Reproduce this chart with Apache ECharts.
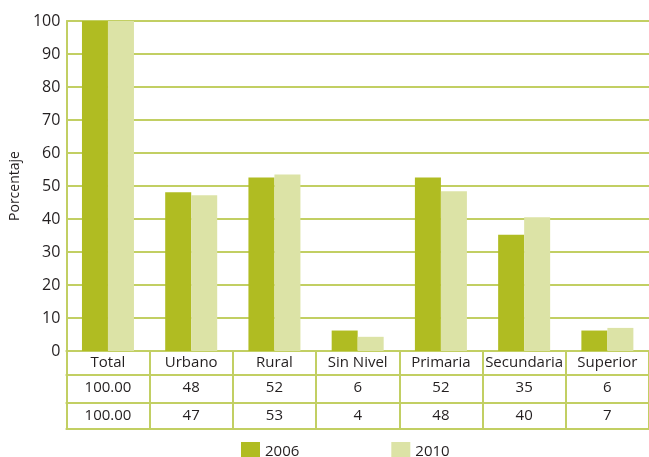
<!DOCTYPE html>
<html>
<head>
<meta charset="utf-8">
<script src="https://cdn.jsdelivr.net/npm/echarts@6/dist/echarts.min.js"></script>
<style>
  html, body { margin: 0; padding: 0; background: #fff; }
  #chart { width: 649px; height: 457px; }
</style>
</head>
<body>
<div id="chart"></div>
<script>
// Data
const categories = ['Total', 'Urbano', 'Rural', 'Sin Nivel', 'Primaria', 'Secundaria', 'Superior'];
const values2006 = [100, 48.1, 52.6, 6.2, 52.6, 35.2, 6.2];
const values2010 = [100, 47.2, 53.5, 4.3, 48.4, 40.5, 7.0];
// Numbers printed in the data table under the axis
const table2006 = ['100.00', '48', '52', '6', '52', '35', '6'];
const table2010 = ['100.00', '47', '53', '4', '48', '40', '7'];
const yTicks = [0, 10, 20, 30, 40, 50, 60, 70, 80, 90, 100];

const olive = '#c2cf63';
const dark = '#b0bc22';
const light = '#dce3a6';
const textColor = '#231f20';
const font = '"Open Sans", "Noto Sans", sans-serif';

const chart = echarts.init(document.getElementById('chart'), null, { renderer: 'canvas' });

// one x axis per table row; all share the grid, stacked with offset
const tableAxis = (offset, labels, extra) => Object.assign({
  type: 'category',
  data: categories,
  position: 'bottom',
  offset: offset,
  axisLine: { show: true, lineStyle: { color: olive, width: 2 } },
  axisTick: { show: false },
  axisLabel: {
    show: !!labels,
    margin: 5,
    color: textColor,
    fontFamily: font,
    fontSize: 15,
    formatter: (v, i) => labels ? labels[i] : ''
  }
}, extra || {});

const option = {
  animation: false,
  textStyle: { fontFamily: font },
  grid: { left: 64, top: 21, width: 595, bottom: 106 },
  legend: {
    left: 236,
    top: 437,
    itemWidth: 19,
    itemHeight: 19,
    itemGap: 92,
    icon: 'rect',
    textStyle: { color: textColor, fontSize: 15, fontFamily: font },
    data: ['2006', '2010']
  },
  xAxis: [
    tableAxis(0, categories, {
      axisTick: { show: true, length: 78, interval: 0, lineStyle: { color: olive, width: 2 } },
      axisLabel: { margin: 4, color: textColor, fontFamily: font, fontSize: 15, interval: 0 }
    }),
    tableAxis(24, table2006),
    tableAxis(52, table2010),
    tableAxis(78, null)
  ],
  yAxis: {
    type: 'value',
    min: yTicks[0],
    max: yTicks[yTicks.length - 1],
    interval: 10,
    name: 'Porcentaje',
    nameLocation: 'middle',
    nameGap: 37,
    nameRotate: 90,
    nameTextStyle: { color: textColor, fontSize: 14, fontFamily: font },
    axisLine: { show: true, lineStyle: { color: olive, width: 2 } },
    axisTick: { show: false },
    axisLabel: { color: textColor, fontSize: 16, fontFamily: font, margin: 6 },
    splitLine: { show: true, lineStyle: { color: olive, width: 2 } }
  },
  series: [
    {
      name: '2006',
      type: 'bar',
      xAxisIndex: 0,
      barWidth: 26,
      barGap: 0,
      itemStyle: { color: dark },
      data: values2006
    },
    {
      name: '2010',
      type: 'bar',
      xAxisIndex: 0,
      barWidth: 26,
      barGap: 0,
      itemStyle: { color: light },
      data: values2010
    }
  ]
};

chart.setOption(option);
window.addEventListener('resize', () => chart.resize());
</script>
</body>
</html>
